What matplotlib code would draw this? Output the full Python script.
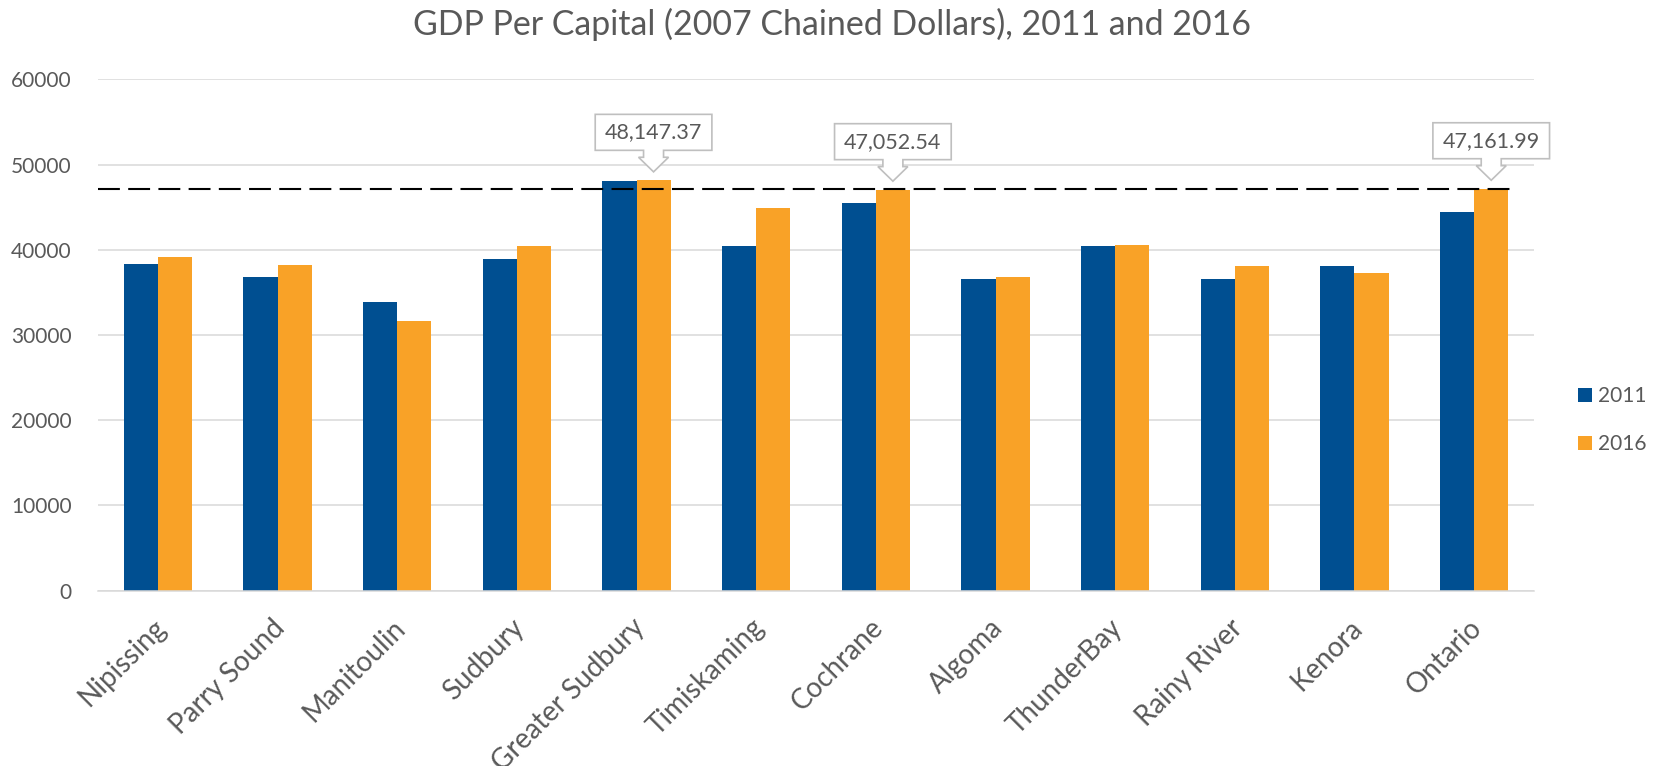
import matplotlib
matplotlib.use('Agg')
import matplotlib.pyplot as plt
import numpy as np
from matplotlib.patches import Polygon
from matplotlib.transforms import Affine2D, ScaledTranslation

categories = ['Nipissing', 'Parry Sound', 'Manitoulin', 'Sudbury', 'Greater Sudbury',
              'Timiskaming', 'Cochrane', 'Algoma', 'ThunderBay', 'Rainy River',
              'Kenora', 'Ontario']
v2011 = [38350, 36800, 33850, 38900, 48100, 40450, 45450, 36600, 40450, 36600, 38050, 44400]
v2016 = [39100, 38250, 31600, 40450, 48147.37, 44950, 47052.54, 36750, 40550, 38150, 37250, 47161.99]
series_labels = ['2011', '2016']
callout_idx = [4, 6, 11]
yticks = [0, 10000, 20000, 30000, 40000, 50000, 60000]
title = 'GDP Per Capital (2007 Chained Dollars), 2011 and 2016'

BLUE = '#004F91'
ORANGE = '#F9A227'
GREY_TXT = '#595959'
FONT = ['Lato', 'DejaVu Sans']
plt.rcParams['font.family'] = FONT

W, H = 1657, 766
fig = plt.figure(figsize=(W / 100, H / 100), dpi=100)
ax = fig.add_axes([98 / W, 1 - 590.7 / H, (1534 - 98) / W, (590.7 - 79.3) / H])

x = np.arange(len(categories))
bw = 0.285
ax.bar(x - bw / 2, v2011, bw, color=BLUE, label=series_labels[0], zorder=2)
ax.bar(x + bw / 2, v2016, bw, color=ORANGE, label=series_labels[1], zorder=2)

ax.set_xlim(-0.5, len(categories) - 0.5)
ax.set_ylim(yticks[0], yticks[-1])
ax.set_yticks(yticks)
ax.set_yticklabels([str(t) for t in yticks])
ax.yaxis.grid(True, color='#D9D9D9', linewidth=1.1, zorder=0)
ax.set_axisbelow(True)
for s in ['top', 'right', 'left']:
    ax.spines[s].set_visible(False)
ax.spines['bottom'].set_color('#D9D9D9')
ax.spines['bottom'].set_linewidth(1.1)
ax.tick_params(axis='both', length=0, colors=GREY_TXT)
ax.tick_params(axis='y', labelsize=15, pad=19)
ax.set_xticks(x)
ax.set_xticklabels(categories, rotation=45, ha='right', va='top',
                   rotation_mode='anchor', fontsize=20, color=GREY_TXT)
ax.tick_params(axis='x', pad=17)
shift = ScaledTranslation(-4 / 72, 0, fig.dpi_scale_trans)
for lab in ax.get_xticklabels():
    lab.set_transform(lab.get_transform() + shift)

# reference dashed line at Ontario 2016
ref = v2016[-1]
ax.plot([-0.5, x[-1] + bw * 1.12], [ref, ref], color='black', lw=1.5,
        dashes=(10.5, 4), zorder=3, clip_on=False)

# callouts
verts = np.array([(-42, 21.6), (-7.2, 21.6), (-7.2, 16.6), (-10.8, 16.6), (0, 6.1),
                  (10.8, 16.6), (7.2, 16.6), (7.2, 21.6), (42, 21.6), (42, 47.5),
                  (-42, 47.5)])
for i in callout_idx:
    xi = x[i] + bw / 2
    yi = v2016[i]
    tr = Affine2D().scale(fig.dpi / 72) + ScaledTranslation(xi, yi, ax.transData)
    poly = Polygon(verts, closed=True, facecolor='white', edgecolor='#BFBFBF',
                   linewidth=1.2, transform=tr, zorder=4, clip_on=False)
    ax.add_patch(poly)
    ax.annotate(f'{yi:,.2f}', xy=(xi, yi), xytext=(0, 34.5), textcoords='offset points',
                ha='center', va='center', fontsize=15.5, color=GREY_TXT, zorder=5,
                annotation_clip=False)

leg = fig.legend(*ax.get_legend_handles_labels(), loc='center left',
                 bbox_to_anchor=(1578 / W, 1 - 420 / H), frameon=False,
                 fontsize=15, handlelength=0.67, handleheight=0.67,
                 handletextpad=0.3, labelspacing=1.35, borderpad=0, borderaxespad=0)
for t in leg.get_texts():
    t.set_color(GREY_TXT)

fig.text(0.502, 1 - 24 / H, title, ha='center', va='center', fontsize=24.4, color=GREY_TXT)

fig.savefig('out.png', dpi=100)
